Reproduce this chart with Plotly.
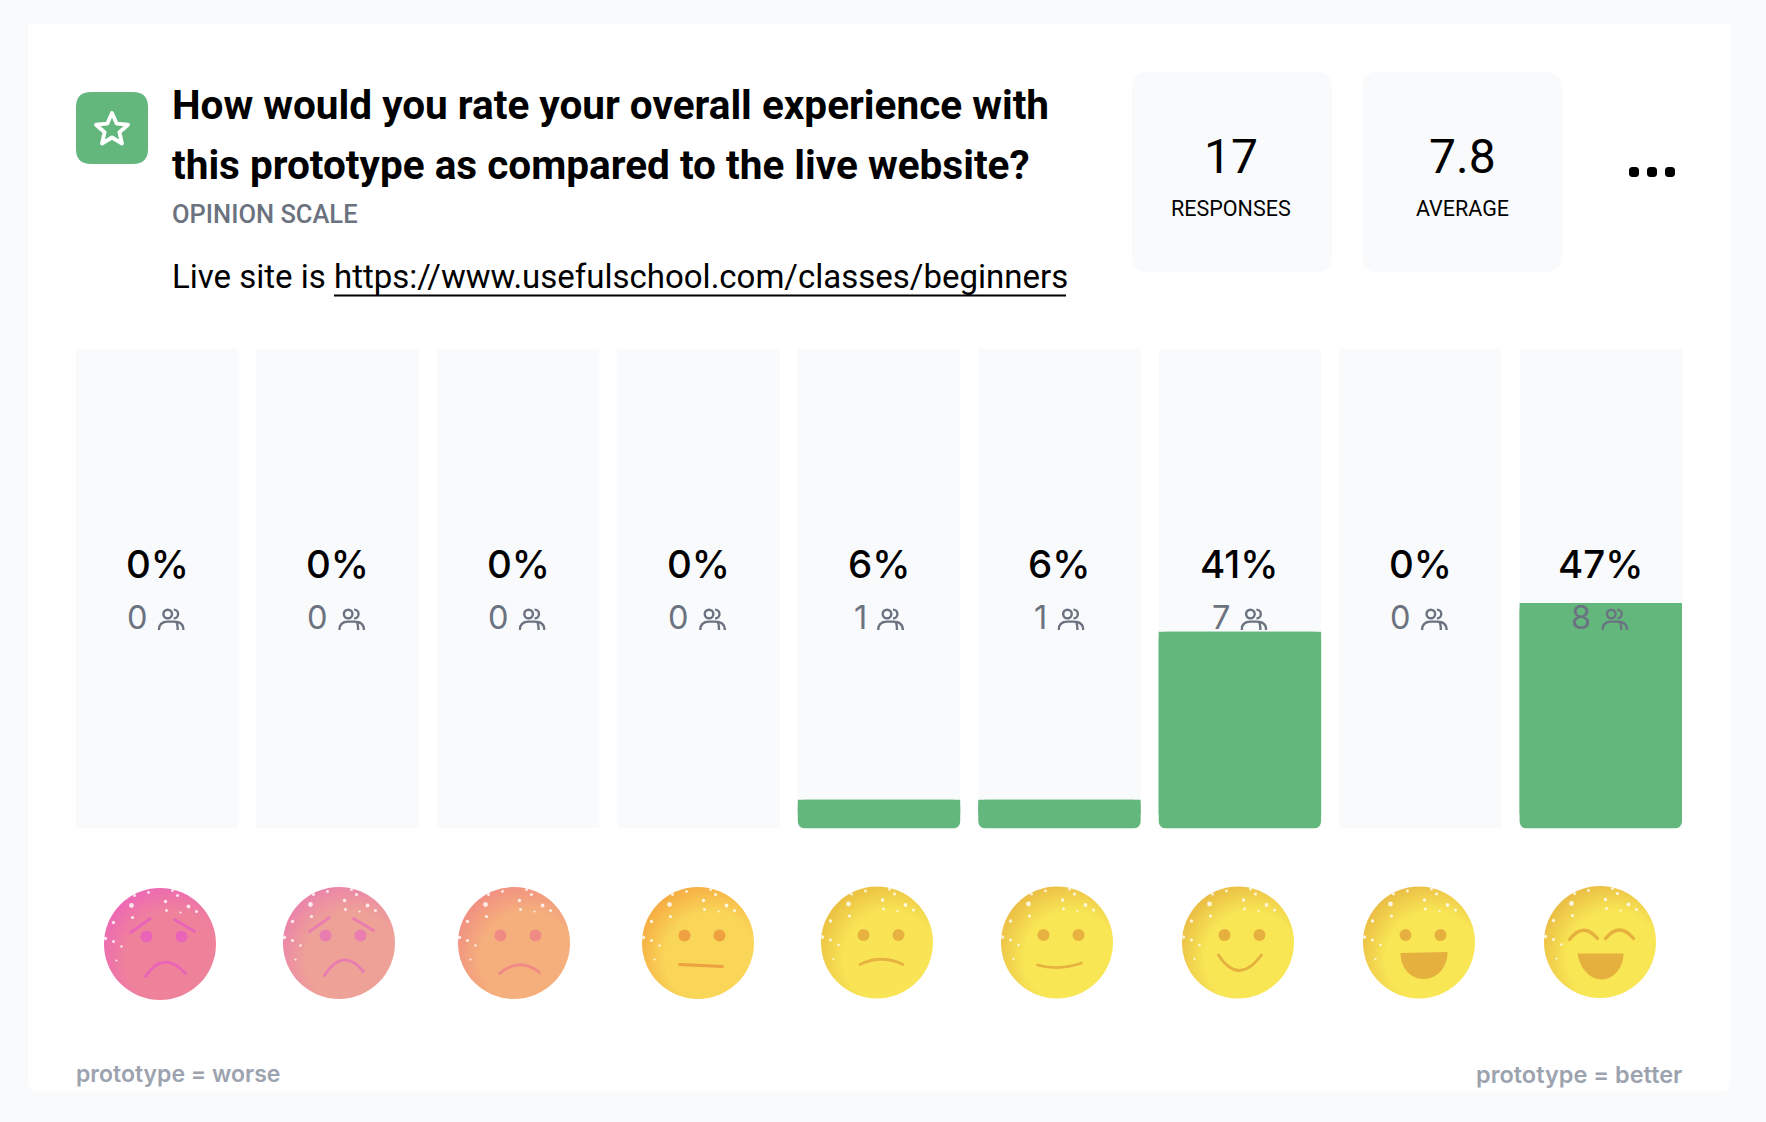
import base64
import plotly.graph_objects as go

# Data
ratings = [1, 2, 3, 4, 5, 6, 7, 8, 9]
percents = [0, 0, 0, 0, 6, 6, 41, 0, 47]
counts = [0, 0, 0, 0, 1, 1, 7, 0, 8]
title_lines = ["How would you rate your overall experience with",
               "this prototype as compared to the live website?"]
stat_values = ["17", "7.8"]
stat_labels = ["RESPONSES", "AVERAGE"]

W, H = 1766, 1122
GREEN = "#64B77C"
PANEL = "#F9FAFB"
GRAY = "#6B7280"
HEAD = "Roboto"
BODY = "Inter"


def X(p):
    return p / W


def Y(p):
    return 1 - p / H


def rrect(x0, y0, x1, y1, r, corners=(1, 1, 1, 1)):
    # rounded box as a paper-space path, corners are tl, tr, br, bl
    tl, tr, br, bl = [r * c for c in corners]
    def P(a, b):
        return f"{X(a):.6f},{Y(b):.6f}"
    return (f"M{P(x0 + tl, y0)} L{P(x1 - tr, y0)} Q{P(x1, y0)} {P(x1, y0 + tr)} "
            f"L{P(x1, y1 - br)} Q{P(x1, y1)} {P(x1 - br, y1)} "
            f"L{P(x0 + bl, y1)} Q{P(x0, y1)} {P(x0, y1 - bl)} "
            f"L{P(x0, y0 + tl)} Q{P(x0, y0)} {P(x0 + tl, y0)} Z")


def uri(svg):
    return "data:image/svg+xml;base64," + base64.b64encode(svg.encode()).decode()


fig = go.Figure()

# grey track behind each rating
fig.add_trace(go.Bar(x=ratings, y=[100] * 9, marker=dict(color=PANEL, line_width=0),
                     hoverinfo="skip", showlegend=False))
# rounded green bar, then a nearly square one over its upper part so only the bottom stays round
fig.add_trace(go.Bar(x=ratings, y=[-v for v in percents], base=percents,
                     marker=dict(color=GREEN, line_width=0, cornerradius=7),
                     hoverinfo="skip", showlegend=False))
fig.add_trace(go.Bar(x=ratings, y=[-max(v - 3, 0) for v in percents], base=percents,
                     marker=dict(color=GREEN, line_width=0, cornerradius=0.5),
                     hoverinfo="skip", showlegend=False))

shapes = [
    dict(type="path", path=rrect(28, 24, 1730, 1091.5, 9, (0, 0, 1, 1)), fillcolor="white", line_width=0,
         xref="paper", yref="paper", layer="below"),
    dict(type="path", path=rrect(76, 92, 148, 164, 15), fillcolor=GREEN, line_width=0,
         xref="paper", yref="paper", layer="below"),
    dict(type="path", path=rrect(1132, 72, 1332, 272, 16), fillcolor=PANEL, line_width=0,
         xref="paper", yref="paper", layer="below"),
    dict(type="path", path=rrect(1362, 72, 1562, 272, 16), fillcolor=PANEL, line_width=0,
         xref="paper", yref="paper", layer="below"),
    dict(type="line", x0=X(334), x1=X(1066), y0=Y(295.5), y1=Y(295.5), xref="paper", yref="paper",
         line=dict(color="black", width=2)),
]
for cx in [1634, 1652, 1670]:
    shapes.append(dict(type="path", path=rrect(cx - 5, 167, cx + 5, 177, 3.5), fillcolor="black", line_width=0,
                       xref="paper", yref="paper"))

annotations = []


def label(text, x, y, size, color="black", font=BODY, weight=400, anchor="left", xref="paper", xshift=0):
    annotations.append(dict(text=text, x=x, y=Y(y), xref=xref, yref="paper", showarrow=False,
                            xanchor=anchor, yanchor="middle", xshift=xshift, borderpad=0, borderwidth=0,
                            font=dict(family=font, size=size, color=color, weight=weight)))


label(title_lines[0], X(172), 105, 40.5, font=HEAD, weight=700)
label(title_lines[1], X(172), 165, 40.5, font=HEAD, weight=700)
label("OPINION SCALE", X(172), 214.5, 25.5, color=GRAY, font=HEAD, weight=500)
label("Live site is https://www.usefulschool.com/classes/beginners", X(172), 277, 33, font=HEAD)
for cx, v, t in zip([1231, 1462], stat_values, stat_labels):
    label(v, X(cx), 157, 48, anchor="center", font=HEAD)
    label(t, X(cx), 208, 21.5, anchor="center", font=HEAD)
label("prototype = worse", X(76), 1074, 23, color="#9CA3AF", weight=600)
label("prototype = better", X(1682), 1074, 23.5, color="#9CA3AF", weight=600, anchor="right")

STEP = 1606 / 8.9
people = uri(
    '<svg xmlns="http://www.w3.org/2000/svg" viewBox="0 0 27 22">'
    f'<g fill="none" stroke="{GRAY}" stroke-width="2.4">'
    '<circle cx="10" cy="6" r="4.3"/><path d="M16 1.6A4.4 4.4 0 0 1 16 10.4"/>'
    '<path d="M1.2 22C1.2 16 5 13.6 10 13.6H16C22 13.6 25.8 16 25.8 22"/><path d="M19 14.4C20 17 20 19 20 22"/>'
    '</g></svg>')
images = []
for r, p, c in zip(ratings, percents, counts):
    label(f"{p}%", r, 564, 38.5, xref="x", anchor="center", weight=500)
    # a "1" is narrower so its digit and icon group sits closer to the middle
    dx = 11.5 if c == 1 else 14
    label(str(c), r, 617, 32.5, color=GRAY, xref="x", anchor="right", xshift=dx - 13.5 - 10)
    images.append(dict(source=people, xref="x", yref="paper", x=r + dx / STEP, y=Y(619),
                       sizex=27 / STEP, sizey=22 / H, xanchor="center", yanchor="middle",
                       sizing="stretch", layer="above"))

star = uri(
    '<svg xmlns="http://www.w3.org/2000/svg" viewBox="0 0 40 40">'
    '<path d="M20 4L24.6 14.6L36 15.7L27.4 23.2L30 34.5L20 28.5L10 34.5L12.6 23.2L4 15.7L15.4 14.6Z" '
    'fill="none" stroke="white" stroke-width="3.8" stroke-linejoin="round"/></svg>')
images.append(dict(source=star, xref="paper", yref="paper", x=X(112), y=Y(129), sizex=40 / W, sizey=40 / H,
                   xanchor="center", yanchor="middle", sizing="stretch", layer="above"))

# the emoji row, one small drawing per rating
specks = [(28, 18, 2.4), (31, 8, 1.5), (45, 5, 1.4), (69, 3, 1.5), (74, 8, 1.6), (82, 5, 1.3), (62, 14, 1.7),
          (63, 23, 1.4), (85, 19, 1.9), (93, 24, 1.5), (77, 25, 1.1), (29, 30, 1.6), (10, 35, 1.7), (2, 51, 1.8),
          (10, 54, 1.5), (18, 59, 1.2), (13, 73, 1.1)]
face_centers = [(160, 944), (339, 943), (514, 943), (698, 943), (877, 942.5), (1057, 942.5), (1238, 942.5), (1419, 942.5), (1600, 942)]
face_base = ["#EF829B", "#EEA197", "#F5AF7C", "#F9D558", "#F8E455", "#F8E655", "#F8E655", "#F8E655", "#F8E655"]
face_edge = ["#EC65B8", "#EA7FAD", "#F08B82", "#F5A63F", "#E9BB40", "#E9B843", "#E8B742", "#E8B742", "#E8B742"]
face_ink = ["#E964B8", "#EA7DAF", "#F08A84", "#EFA040", "#E7B23F", "#E7B23F", "#E6B03F", "#E6B03F", "#E6B03F"]
face_parts = [
    '<path d="M27 45L47 31M71 32L91 44"/><path d="M42 89Q60 62 82 86"/>',
    '<path d="M27 45L47 31M71 32L91 44"/><path d="M42 89Q60 60 81 85"/>',
    '<path d="M42 87Q62 70 82 86"/>',
    '<path d="M38 78L81 80"/>',
    '<path d="M39.5 78.5Q61 68 82.5 78.5"/>',
    '<path d="M37 79Q59 85 81 77"/>',
    '<path d="M37 69Q57 100 80 69"/>',
    '<path class="m" d="M38 67L85 66C85 82 74 93 61 93C48 93 38 82 38 67Z"/>',
    '<path class="m" d="M34 68L80 68C80 82 70 94 58 94C46 94 36 82 34 68Z"/>'
    '<path stroke-width="3.4" d="M26 54Q40 36 54 53M62 53Q76 36 90 53"/>',
]

for i, (center, base, edge, ink, parts) in enumerate(zip(face_centers, face_base, face_edge, face_ink, face_parts)):
    eyes = "" if i == 8 else f'<circle cx="43" cy="49" r="6" fill="{ink}"/><circle cx="78" cy="49" r="6" fill="{ink}"/>'
    dots = "".join(f'<circle cx="{a}" cy="{b}" r="{c}" fill="white" fill-opacity="0.8"/>' for a, b, c in specks)
    parts = parts.replace('class="m"', f'fill="{ink}" stroke="none"')
    svg = (f'<svg xmlns="http://www.w3.org/2000/svg" viewBox="0 0 113 113">'
           f'<defs><radialGradient id="g" cx="0.62" cy="0.64" r="0.72">'
           f'<stop offset="0.58" stop-color="{base}"/><stop offset="1" stop-color="{edge}"/>'
           f'</radialGradient></defs><circle cx="56.5" cy="56.5" r="56" fill="url(#g)"/>{dots}{eyes}'
           f'<g fill="none" stroke="{ink}" stroke-width="2.8" stroke-linecap="round">{parts}</g></svg>')
    images.append(dict(source=uri(svg), xref="paper", yref="paper", x=X(center[0]), y=Y(center[1]),
                       sizex=113 / W, sizey=113 / H, xanchor="center", yanchor="middle",
                       sizing="stretch", layer="above"))

fig.update_layout(
    width=W, height=H, margin=dict(l=0, r=0, t=0, b=0, pad=0),
    paper_bgcolor=PANEL, plot_bgcolor="rgba(0,0,0,0)",
    barmode="overlay", bargap=0.1, showlegend=False,
    xaxis=dict(domain=[X(76), X(1682)], range=[0.55, 9.45], visible=False, fixedrange=True),
    yaxis=dict(domain=[Y(828.5), Y(348.5)], range=[0, 100], visible=False, fixedrange=True),
    shapes=shapes, annotations=annotations, images=images,
)

fig.write_html("out.html", config={"displayModeBar": False},
               post_script="document.body.style.margin='0';document.documentElement.style.overflow='hidden';")
